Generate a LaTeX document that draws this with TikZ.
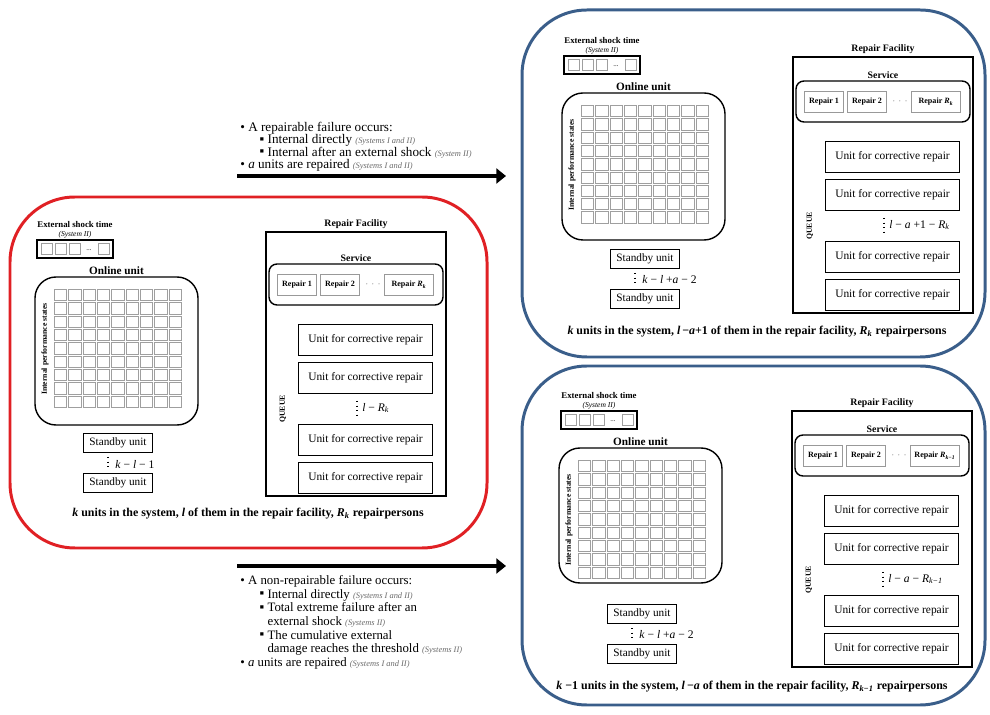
\documentclass[tikz,border=0pt]{standalone}
\usepackage{fontspec}
\setmainfont{Liberation Serif}
\usepackage{tikz}
\usetikzlibrary{positioning, arrows.meta}

\definecolor{framered}{RGB}{224,32,36}
\definecolor{frameblue}{RGB}{58,94,138}
\definecolor{notegray}{RGB}{105,105,105}

\newcommand{\fsz}[1]{\fontsize{#1}{#1}\selectfont}
\newcommand{\sysnote}[1]{{\fsz{4.8}\itshape\color{notegray}#1}}
\newcommand{\sqb}{\raisebox{0.2pt}{\fsz{7.5}▪}}
\newcommand{\Rk}[1]{\textit{R}\textsubscript{\textit{#1}}}

% online unit, shock times and standby units
% #1,#2 corner of the rounded box, #3 prefix, #4 box height, #5 standby count
\newcommand{\onlineblock}[5]{%
  \begin{scope}[shift={(#1,#2)}]
    \node[shockbox] (#3-shock) at (40,-28) {};
    \foreach \s in {0,1,2} \draw[cell] ({6+\s*14},-33.5) rectangle +(11,11);
    \node[font=\fsz{4}] (#3-sdots) at (54,-27) {...};
    \draw[cell] (63,-33.5) rectangle +(11,11);
    \node[shocklbl] (#3-shocklbl) [above=0pt of #3-shock] {External shock time\\{\mdseries\itshape\fsz{4.3}(System II)}};
    \node[onlinebox, minimum height=#4*0.02cm] (#3-online) at (81.5,#4/2) {};
    \node[onlinelbl] (#3-onlinelbl) [above=0pt of #3-online] {Online unit};
    \foreach \i in {0,...,8}
      \foreach \j in {0,...,8}
        \draw[cell] ({19.5+\i*14.3},{12.5+\j*13.3}) rectangle +(12.3,11.3);
    \node[sidelbl] (#3-states) at (10,72) {Internal performance states};
    \node[standbybox] (#3-sb1) at (83,166) {Standby unit};
    \node[standbybox] (#3-sb2) at (83,206) {Standby unit};
    \coordinate (#3-dtop) at (73,180);
    \coordinate (#3-dbot) at (73,192);
    \draw[dotlink] (#3-dtop) -- (#3-dbot);
    \node[countlbl] (#3-count) at (80,187) {#5};
  \end{scope}}

% repair facility with service and queue
% #1,#2 corner, #3 prefix, #4 box height, #5 last repairperson, #6 queue count
\newcommand{\facility}[6]{%
  \begin{scope}[shift={(#1,#2)}]
    \node[facbox, minimum height=#4*0.02cm] (#3-fac) at (90,#4/2) {};
    \node[headlbl] (#3-faclbl) [above=0.5pt of #3-fac] {Repair Facility};
    \begin{scope}[shift={(0,#4-256)}]
      \node[servicebox] (#3-serv) at (90,44.5) {};
      \node[headlbl] (#3-servlbl) [above=0pt of #3-serv] {Service};
      \node[repairbox, minimum width=39*0.02cm] (#3-r1) at (31,44.5) {Repair 1};
      \node[repairbox, minimum width=39*0.02cm] (#3-r2) at (74,44.5) {Repair 2};
      \node[font=\fsz{5}, text=gray] (#3-rdots) at (107,44.5) {$\cdots$};
      \node[repairbox, minimum width=49*0.02cm] (#3-rn) at (143,44.5) {Repair #5};
      \node[unitbox] (#3-u1) at (99.5,100) {Unit for corrective repair};
      \node[unitbox] (#3-u2) at (99.5,138) {Unit for corrective repair};
      \node[unitbox] (#3-u3) at (99.5,200) {Unit for corrective repair};
      \node[unitbox] (#3-u4) at (99.5,238) {Unit for corrective repair};
      \node[sidelbl] (#3-queue) at (17,169) {QUEUE};
      \coordinate (#3-qtop) at (91,161);
      \coordinate (#3-qbot) at (91,176);
      \draw[dotlink] (#3-qtop) -- (#3-qbot);
      \node[countlbl] (#3-qcount) at (96,168) {#6};
    \end{scope}
  \end{scope}}

\begin{document}
\begin{tikzpicture}[
    x=0.02cm, y=-0.02cm,
    cell/.style={draw=gray!75, line width=0.45pt},
    shockbox/.style={draw, line width=1pt, minimum width=76*0.02cm, minimum height=18*0.02cm, inner sep=0pt},
    shocklbl/.style={font=\bfseries\fsz{5}, align=center, inner sep=0.5pt},
    onlinebox/.style={draw, line width=0.8pt, rounded corners=0.42cm, minimum width=163*0.02cm, inner sep=0pt},
    onlinelbl/.style={font=\bfseries\fsz{6.4}, inner sep=1pt},
    sidelbl/.style={font=\bfseries\fsz{4.4}, rotate=90, inner sep=0pt},
    standbybox/.style={draw, line width=0.7pt, minimum width=69*0.02cm, minimum height=19*0.02cm, inner sep=0pt, font=\fsz{6.4}},
    countlbl/.style={anchor=west, font=\fsz{6.6}, inner sep=0pt},
    dotlink/.style={dotted, line width=0.6pt},
    facbox/.style={draw, line width=0.8pt, minimum width=180*0.02cm, inner sep=0pt},
    headlbl/.style={font=\bfseries\fsz{5.6}, inner sep=1pt},
    servicebox/.style={draw, line width=0.8pt, rounded corners=0.16cm, minimum width=174*0.02cm, minimum height=41*0.02cm, inner sep=0pt},
    repairbox/.style={draw=gray!80, line width=0.5pt, minimum height=21*0.02cm, inner sep=0pt, font=\bfseries\fsz{4.6}},
    unitbox/.style={draw, line width=0.7pt, minimum width=134*0.02cm, minimum height=31*0.02cm, inner sep=0pt, font=\fsz{6.5}},
    panelframe/.style={line width=1.7pt, rounded corners=1.3cm},
    caption/.style={font=\bfseries\fsz{6.8}, inner sep=0pt},
    bullettext/.style={anchor=north west, align=left, inner sep=0pt},
    bigarrow/.style={line width=2.8pt, -{Triangle[length=5.5pt, width=8.5pt]}}
]
\useasboundingbox (0,0) rectangle (990,715);

% state frames
\draw[panelframe, framered] (10,197) rectangle (487,548);
\draw[panelframe, frameblue] (522,10) rectangle (985,357);
\draw[panelframe, frameblue] (522,366) rectangle (985,705);

% current state
\onlineblock{35}{277}{L}{148}{\textit{k} − \textit{l} − 1}
\facility{266}{232}{L}{264}{\Rk{k}}{\textit{l} − \Rk{k}}
\node[caption] (Lcap) at (248,514) {\textit{k} units in the system, \textit{l} of them in the repair facility, \Rk{k} repairpersons};

% after a repairable failure
\onlineblock{562}{93}{T}{147}{\textit{k} − \textit{l} +\textit{a} − 2}
\facility{793}{57}{T}{256}{\Rk{k}}{\textit{l} − \textit{a} +1 − \Rk{k}}
\node[caption] (Tcap) at (757,332) {\textit{k} units in the system, \textit{l}\,−\textit{a}+1 of them in the repair facility, \Rk{k} repairpersons};

% after a non-repairable failure
\onlineblock{559}{448}{B}{135}{\textit{k} − \textit{l} +\textit{a} − 2}
\facility{792}{411}{B}{256}{\Rk{k−1}}{\textit{l} − \textit{a} − \Rk{k−1}}
\node[caption] (Bcap) at (752,687) {\textit{k} −1 units in the system, \textit{l}\,−\textit{a} of them in the repair facility, \Rk{k−1} repairpersons};

% transitions
\coordinate (up-start) at (237,176);
\coordinate (up-end) at (506,176);
\draw[bigarrow] (up-start) -- (up-end);
\coordinate (down-start) at (237,566);
\coordinate (down-end) at (506,566);
\draw[bigarrow] (down-start) -- (down-end);

\node[bullettext, font={\fontsize{7.5}{7.0}\selectfont\lineskiplimit=-5pt}] (repairtxt) at (240,122) {%
  \textbullet\ A repairable failure occurs:\\
  \hspace*{11pt}\sqb\ Internal directly \sysnote{(Systems I and II)}\\
  \hspace*{11pt}\sqb\ Internal after an external shock \sysnote{(System II)}\\
  \textbullet\ \textit{a} units are repaired \sysnote{(Systems I and II)}};

\node[bullettext, font={\fontsize{7.3}{7.8}\selectfont\lineskiplimit=-5pt}] (nonrepairtxt) at (240,575) {%
  \textbullet\ A non-repairable failure occurs:\\
  \hspace*{11pt}\sqb\ Internal directly \sysnote{(Systems I and II)}\\
  \hspace*{11pt}\sqb\ Total extreme failure after an\\
  \hspace*{11pt}\phantom{\sqb\ }external shock \sysnote{(Systems II)}\\
  \hspace*{11pt}\sqb\ The cumulative external\\
  \hspace*{11pt}\phantom{\sqb\ }damage reaches the threshold \sysnote{(Systems II)}\\
  \textbullet\ \textit{a} units are repaired \sysnote{(Systems I and II)}};
\end{tikzpicture}
\end{document}
